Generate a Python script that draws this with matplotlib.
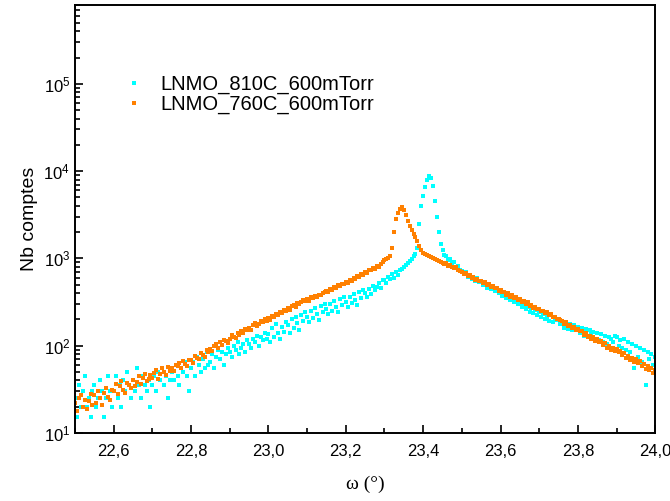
import numpy as np
import matplotlib
matplotlib.use("Agg")
import matplotlib.pyplot as plt
from matplotlib.ticker import LogLocator, MultipleLocator, FuncFormatter

plt.rcParams['font.family'] = ['Liberation Sans', 'DejaVu Sans']
plt.rcParams['mathtext.fontset'] = 'custom'
plt.rcParams['mathtext.rm'] = 'Liberation Sans'
plt.rcParams['mathtext.it'] = 'Liberation Sans:italic'

# omega scan grid (deg), 0.005 step
omega_start = 22.5
omega_step = 0.005
n_pts = 301

label_810 = "LNMO_810C_600mTorr"
label_760 = "LNMO_760C_600mTorr"

counts_810 = [
    25, 15, 35, 20, 30, 45, 20, 25, 15, 30,
    35, 20, 25, 40, 30, 15, 25, 45, 30, 20,
    30, 45, 25, 35, 20, 40, 30, 50, 35, 25,
    40, 30, 55, 35, 25, 45, 35, 30, 40, 20,
    35, 45, 30, 50, 40, 55, 35, 45, 25, 40,
    50, 40, 60, 45, 35, 55, 50, 65, 45, 30,
    55, 65, 45, 75, 60, 50, 70, 55, 85, 60,
    65, 80, 55, 75, 90, 70, 85, 60, 80, 95,
    85, 75, 100, 90, 110, 80, 95, 105, 85, 115,
    105, 95, 120, 110, 130, 100, 125, 115, 140, 120,
    135, 110, 160, 125, 175, 140, 120, 165, 145, 185,
    170, 140, 200, 160, 215, 180, 150, 225, 190, 240,
    215, 185, 250, 205, 270, 230, 195, 285, 240, 300,
    265, 230, 300, 250, 325, 275, 240, 340, 290, 360,
    320, 280, 360, 305, 390, 335, 295, 410, 350, 430,
    400, 360, 445, 390, 480, 430, 470, 520, 455, 560,
    560, 520, 610, 580, 660, 600, 700, 650, 730, 760,
    790, 830, 880, 920, 980, 1050, 1120, 1300, 2500, 4000,
    5200, 6600, 8000, 8700, 8400, 6800, 4600, 3000, 2000, 1450,
    1250, 1100, 1060, 960, 970, 880, 900, 800, 820, 740,
    720, 660, 690, 610, 650, 580, 610, 555, 590, 530,
    545, 490, 520, 455, 480, 440, 465, 420, 450, 400,
    415, 370, 395, 350, 380, 330, 360, 315, 340, 300,
    310, 275, 295, 260, 280, 245, 270, 235, 255, 225,
    240, 210, 230, 200, 215, 190, 225, 185, 205, 195,
    200, 175, 190, 160, 185, 155, 175, 150, 170, 160,
    165, 140, 160, 130, 155, 125, 150, 135, 145, 120,
    140, 115, 135, 110, 130, 105, 125, 120, 110, 130,
    125, 100, 115, 95, 120, 90, 110, 85, 105, 55,
    100, 75, 95, 65, 90, 35, 85, 70, 80, 60,
    75,
]

counts_760 = [
    22, 18, 25, 27, 20, 24, 19, 23, 28, 21,
    27, 22, 30, 25, 21, 29, 33, 26, 24, 31,
    30, 36, 28, 34, 39, 31, 29, 37, 35, 33,
    40, 34, 38, 45, 36, 42, 47, 39, 41, 46,
    43, 49, 52, 41, 47, 55, 50, 46, 57, 51,
    56, 51, 60, 58, 63, 55, 66, 61, 59, 68,
    68, 63, 76, 72, 70, 82, 79, 74, 90, 85,
    92, 86, 99, 104, 95, 110, 101, 117, 112, 106,
    118, 131, 125, 122, 140, 133, 147, 139, 155, 150,
    160, 152, 170, 181, 166, 177, 190, 184, 200, 192,
    205, 196, 220, 214, 232, 226, 244, 238, 256, 250,
    268, 258, 284, 292, 279, 305, 298, 316, 330, 322,
    338, 325, 356, 348, 370, 362, 385, 378, 402, 410,
    425, 410, 446, 438, 466, 458, 490, 480, 512, 505,
    535, 520, 562, 552, 594, 580, 622, 612, 656, 645,
    700, 688, 738, 726, 772, 760, 812, 800, 865, 900,
    955, 975, 1010, 1060, 1300, 2000, 2800, 3300, 3700, 3850,
    3550, 3100, 2700, 2350, 2100, 1900, 1740, 1580, 1400, 1250,
    1150, 1110, 1080, 1060, 1035, 1010, 985, 960, 935, 910,
    895, 862, 880, 826, 840, 800, 776, 790, 742, 720,
    705, 662, 680, 628, 640, 596, 610, 570, 585, 548,
    548, 520, 532, 494, 505, 468, 480, 452, 462, 428,
    430, 408, 414, 385, 398, 362, 376, 352, 358, 332,
    338, 320, 326, 300, 312, 288, 292, 272, 280, 260,
    262, 250, 252, 234, 240, 222, 228, 210, 214, 200,
    204, 194, 192, 178, 184, 166, 172, 158, 162, 150,
    156, 146, 148, 134, 140, 126, 130, 120, 124, 114,
    120, 110, 112, 102, 106, 95, 100, 90, 94, 86,
    92, 84, 86, 78, 82, 72, 76, 68, 72, 65,
    70, 64, 66, 58, 62, 54, 59, 52, 56, 49,
    52,
]

omega = np.round(omega_start + omega_step * np.arange(n_pts), 3)

fig = plt.figure(figsize=(6.7, 5.01), dpi=100)
ax = fig.add_axes([0.112, 0.136, 0.866, 0.854])

ax.plot(omega, counts_810, ls='none', marker='s', ms=2.7, mew=0,
        color='#00FFFF', label=label_810)
ax.plot(omega, counts_760, ls='none', marker='s', ms=2.7, mew=0,
        color='#FF8000', label=label_760)

ax.set_yscale('log')
ax.set_xlim(22.5, 24.0)
ax.set_ylim(10, 8e5)

ax.xaxis.set_major_locator(MultipleLocator(0.2))
ax.xaxis.set_minor_locator(MultipleLocator(0.1))
ax.xaxis.set_major_formatter(FuncFormatter(lambda v, p: f"{v:.1f}".replace('.', ',')))
ax.yaxis.set_major_locator(LogLocator(base=10, numticks=10))
ax.yaxis.set_minor_locator(LogLocator(base=10, subs=np.arange(2, 10), numticks=20))
ax.yaxis.set_major_formatter(FuncFormatter(lambda v, p: r"$10^{%d}$" % round(np.log10(v))))
ax.yaxis.set_minor_formatter(FuncFormatter(lambda v, p: ""))

ax.tick_params(axis='both', which='both', direction='in', top=False, right=False,
               labelsize=12, width=1.2)
ax.tick_params(axis='both', which='major', length=6)
ax.tick_params(axis='both', which='minor', length=3.5)
ax.tick_params(axis='x', which='major', pad=8)
for s in ax.spines.values():
    s.set_linewidth(1.4)

ax.set_ylabel("Nb comptes", fontsize=14)
ax.set_xlabel("ω (°)", fontsize=14, family=['Liberation Serif', 'DejaVu Serif'], labelpad=12)

ax.legend(loc='upper left', bbox_to_anchor=(0.07, 0.856), frameon=False,
          fontsize=14.5, numpoints=1, markerscale=1.0, handlelength=1.0,
          handletextpad=0.8, labelspacing=0.05, borderaxespad=0)

fig.savefig("out.png", dpi=100)
